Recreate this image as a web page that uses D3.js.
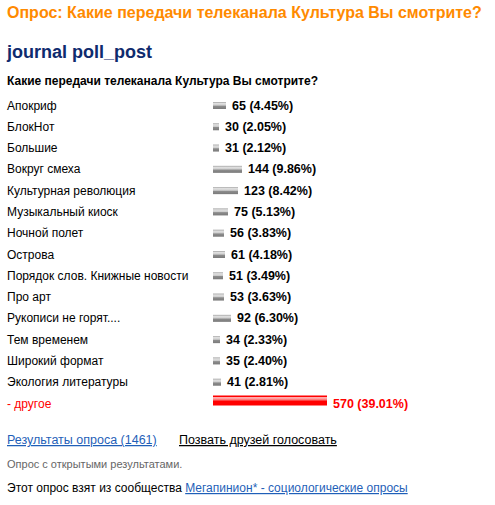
<!DOCTYPE html>
<html><head><meta charset="utf-8">
<script src="https://cdn.jsdelivr.net/npm/d3@7"></script>
<style>
html,body{margin:0;padding:0;background:#fff;}
svg{display:block;font-family:"Liberation Sans",Arial,sans-serif;}
</style></head>
<body>
<script>
const title = "Опрос: Какие передачи телеканала Культура Вы смотрите?";
const subtitle = "journal poll_post";
const question = "Какие передачи телеканала Культура Вы смотрите?";
const categories = ["Апокриф","БлокНот","Большие","Вокруг смеха","Культурная революция","Музыкальный киоск","Ночной полет","Острова","Порядок слов. Книжные новости","Про арт","Рукописи не горят....","Тем временем","Широкий формат","Экология литературы","- другое"];
const votes = [65,30,31,144,123,75,56,61,51,53,92,34,35,41,570];
const percents = ["4.45","2.05","2.12","9.86","8.42","5.13","3.83","4.18","3.49","3.63","6.30","2.33","2.40","2.81","39.01"];
const totalVotes = 1461;

const W = 495, H = 505;
const svg = d3.select("body").append("svg").attr("width", W).attr("height", H);

const defs = svg.append("defs");
const g1 = defs.append("linearGradient").attr("id","grayBar").attr("x1",0).attr("y1",0).attr("x2",0).attr("y2",1);
[["0%","#a0a0a0"],["20%","#e0e0e0"],["45%","#cfcfcf"],["60%","#8c8c8c"],["100%","#7a7a7a"]].forEach(s=>g1.append("stop").attr("offset",s[0]).attr("stop-color",s[1]));
const g2 = defs.append("linearGradient").attr("id","redBar").attr("x1",0).attr("y1",0).attr("x2",0).attr("y2",1);
[["0%","#ff0000"],["15%","#ff0000"],["16%","#ffb0b0"],["35%","#ff9a9a"],["50%","#ff4040"],["55%","#ff0000"],["100%","#ff0000"]].forEach(s=>g2.append("stop").attr("offset",s[0]).attr("stop-color",s[1]));

svg.append("text").attr("x",7).attr("y",18).attr("fill","#ff8a00").attr("font-weight","bold").attr("font-size",16).text(title);
svg.append("text").attr("x",7).attr("y",58).attr("fill","#0f2b6e").attr("font-weight","bold").attr("font-size",18).text(subtitle);
svg.append("text").attr("x",7).attr("y",85).attr("fill","#000").attr("font-weight","bold").attr("font-size",12).text(question);

const y = d3.scalePoint().domain(d3.range(categories.length)).range([109.5, 407.5]);
const x = d3.scaleLinear().domain([0, 570]).range([0, 114]);
const x0 = 213;

const rows = svg.append("g").selectAll("g").data(categories.map((c,i)=>({c, v:votes[i], p:percents[i], i, other: i===categories.length-1})))
  .join("g");

rows.append("text").attr("x",7).attr("y",d=>y(d.i)).attr("font-size",12)
  .attr("fill",d=>d.other?"#ff0000":"#000").text(d=>d.c);

rows.append("rect").attr("x",x0)
  .attr("y",d=>d.other? y(d.i)-12 : y(d.i)-7.5)
  .attr("width",d=>Math.round(x(d.v)))
  .attr("height",d=>d.other?10:7)
  .attr("fill",d=>d.other?"url(#redBar)":"url(#grayBar)");

rows.append("text").attr("x",d=>x0+Math.round(x(d.v))+6).attr("y",d=>y(d.i)).attr("font-size",12.5)
  .attr("font-weight","bold").attr("fill",d=>d.other?"#ff0000":"#000")
  .text(d=>`${d.v} (${d.p}%)`);

svg.append("text").attr("x",7).attr("y",444).attr("font-size",12.5).attr("fill","#1f5fb8")
  .attr("text-decoration","underline").text(`Результаты опроса (${totalVotes})`);
svg.append("text").attr("x",179).attr("y",444).attr("font-size",12.5).attr("fill","#000")
  .attr("text-decoration","underline").text("Позвать друзей голосовать");
svg.append("text").attr("x",7).attr("y",468).attr("font-size",11).attr("fill","#666").text("Опрос с открытыми результатами.");
const t = svg.append("text").attr("x",7).attr("y",492).attr("font-size",12).attr("fill","#000");
t.append("tspan").text("Этот опрос взят из сообщества ");
t.append("tspan").attr("fill","#1f5fb8").attr("text-decoration","underline").text("Мегапинион* - социологические опросы");
</script>
</body></html>
